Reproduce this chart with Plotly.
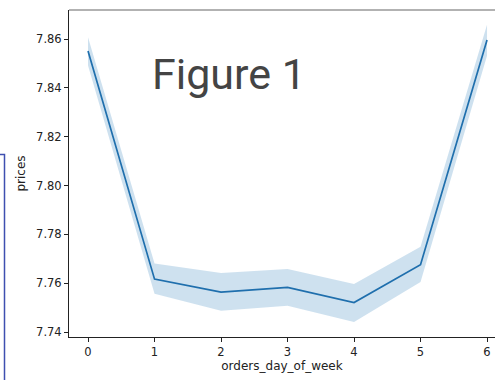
import plotly.graph_objects as go

# Mean price per weekday with its confidence band
days = [0, 1, 2, 3, 4, 5, 6]
mean_price = [7.8551, 7.7617, 7.7564, 7.7583, 7.7521, 7.7676, 7.8596]
ci_upper = [7.8607, 7.7681, 7.7642, 7.7658, 7.7597, 7.7750, 7.8659]
ci_lower = [7.8492, 7.7557, 7.7488, 7.7508, 7.7441, 7.7605, 7.8532]
y_ticks = [7.74, 7.76, 7.78, 7.80, 7.82, 7.84, 7.86]

W, H = 495, 380
L, R, T, B = 69, 0, 10, 43
pw, ph = W - L - R, H - T - B


def px_x(p):
    return (p - L) / pw


def px_y(p):
    return (H - B - p) / ph


fig = go.Figure()
fig.add_trace(go.Scatter(x=days, y=ci_upper, mode="lines", line=dict(width=0),
                         hoverinfo="skip", showlegend=False))
fig.add_trace(go.Scatter(x=days, y=ci_lower, mode="lines", line=dict(width=0),
                         fill="tonexty", fillcolor="rgba(31,119,180,0.22)",
                         hoverinfo="skip", showlegend=False))
fig.add_trace(go.Scatter(x=days, y=mean_price, mode="lines",
                         line=dict(color="#1f6fad", width=1.7), showlegend=False))

tick_font = dict(family="DejaVu Sans", size=11.5, color="#222")
title_font = dict(family="DejaVu Sans", size=12, color="#222")
fig.update_xaxes(range=[-0.286, 6.12], tickvals=days, ticks="outside", ticklen=4,
                 tickcolor="#222", showline=True, linecolor="#222", linewidth=1,
                 showgrid=False, zeroline=False, tickfont=tick_font,
                 title=dict(text="orders_day_of_week", font=title_font, standoff=3))
fig.update_yaxes(range=[7.738, 7.8719], tickvals=y_ticks,
                 ticktext=[f"{v:.2f}" for v in y_ticks], ticks="outside", ticklen=4,
                 tickcolor="#222", showline=True, linecolor="#222", linewidth=1,
                 showgrid=False, zeroline=False, tickfont=tick_font,
                 title=dict(text="prices", font=title_font, standoff=7))

# top frame edge
fig.add_shape(type="line", xref="paper", yref="paper", x0=0, x1=1, y0=1, y1=1,
              line=dict(color="#666", width=1.2))
# blue framed panel at the left edge
fig.add_shape(type="rect", xref="paper", yref="paper",
              x0=px_x(-20), x1=px_x(4.5), y0=px_y(400), y1=px_y(154.5),
              line=dict(color="#3f4fb0", width=1.5), fillcolor="rgba(0,0,0,0)",
              layer="above")

fig.add_annotation(text="Figure 1", xref="paper", yref="paper",
                   x=px_x(150), y=px_y(74), xanchor="left", yanchor="middle",
                   showarrow=False, font=dict(family="Roboto", size=43, color="#444"))

fig.update_layout(width=W, height=H, margin=dict(l=L, r=R, t=T, b=B),
                  plot_bgcolor="white", paper_bgcolor="white")

fig.write_html("out.html")
